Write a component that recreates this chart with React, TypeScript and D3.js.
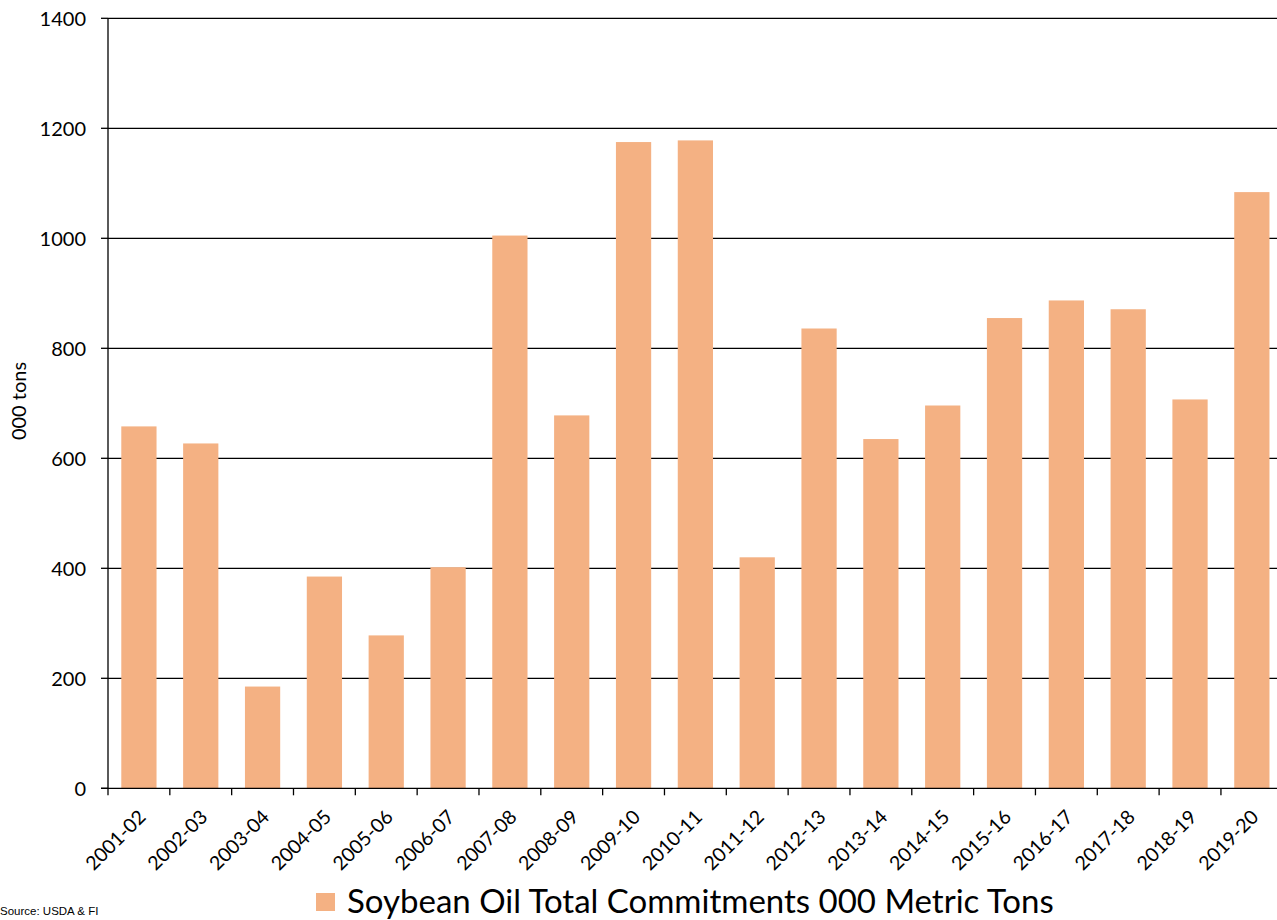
import React from "react";
import * as d3 from "d3";

const categories = ["2001-02","2002-03","2003-04","2004-05","2005-06","2006-07","2007-08","2008-09","2009-10","2010-11","2011-12","2012-13","2013-14","2014-15","2015-16","2016-17","2017-18","2018-19","2019-20"];
const values = [658, 627, 185, 385, 278, 402, 1005, 678, 1175, 1178, 420, 836, 635, 696, 855, 887, 871, 707, 1084];
const yTicks = [0, 200, 400, 600, 800, 1000, 1200, 1400];
const seriesName = "Soybean Oil Total Commitments 000 Metric Tons";
const yTitle = "000 tons";
const source = "Source:  USDA & FI";

const W = 1277, H = 920;
const left = 108, top = 18.3, bottom = 788.3, step = 61.83;
const FONT = "Lato, 'Open Sans', sans-serif";

export default function App() {
  const x = d3.scaleBand<string>()
    .domain(categories)
    .range([left, left + step * categories.length])
    .paddingInner(0.43)
    .paddingOuter(0.215);
  const y = d3.scaleLinear().domain([0, 1400]).range([bottom, top]);
  const fill = "#F4B183";
  return (
    <svg width={W} height={H} style={{ position: "absolute", left: 0, top: 0, overflow: "hidden" }}>
      <rect x={0} y={0} width={W} height={H} fill="#fff" />
      {yTicks.filter(t => t > 0).map(t => (
        <line key={"g" + t} x1={left} x2={W} y1={y(t)} y2={y(t)} stroke="#000" strokeWidth={1.3} />
      ))}
      {categories.map((c, i) => (
        <rect key={c} x={x(c)} y={y(values[i])} width={x.bandwidth()} height={y(0) - y(values[i])} fill={fill} />
      ))}
      <line x1={left} x2={left} y1={top} y2={bottom + 7} stroke="#000" strokeWidth={1.3} />
      <line x1={left - 7} x2={W} y1={bottom} y2={bottom} stroke="#000" strokeWidth={1.3} />
      {yTicks.map(t => (
        <g key={"t" + t}>
          <line x1={left - 7} x2={left} y1={y(t)} y2={y(t)} stroke="#000" strokeWidth={1.3} />
          <text x={86} y={y(t)} dy="0.36em" textAnchor="end" fontFamily={FONT} fontSize={20} fill="#000">{t}</text>
        </g>
      ))}
      {categories.map((c, i) => {
        const bx = left + step * (i + 1);
        const cx = (x(c) as number) + x.bandwidth() / 2;
        return (
          <g key={"x" + c}>
            <line x1={bx} x2={bx} y1={bottom} y2={bottom + 7} stroke="#000" strokeWidth={1.3} />
            <text transform={`translate(${cx + 8},${bottom + 30}) rotate(-45)`} textAnchor="end" fontFamily={FONT} fontSize={19.5} fill="#000">{c}</text>
          </g>
        );
      })}
      <text transform={`translate(26,401) rotate(-90)`} textAnchor="middle" fontFamily={FONT} fontSize={20} fill="#000">{yTitle}</text>
      <text x={0} y={915} fontFamily="'Liberation Sans', Arial, sans-serif" fontSize={11.5} fill="#000">{source}</text>
      <rect x={316} y={893} width={19} height={18} fill={fill} />
      <text x={347} y={913} fontFamily={FONT} fontSize={33} fill="#000">{seriesName}</text>
    </svg>
  );
}
